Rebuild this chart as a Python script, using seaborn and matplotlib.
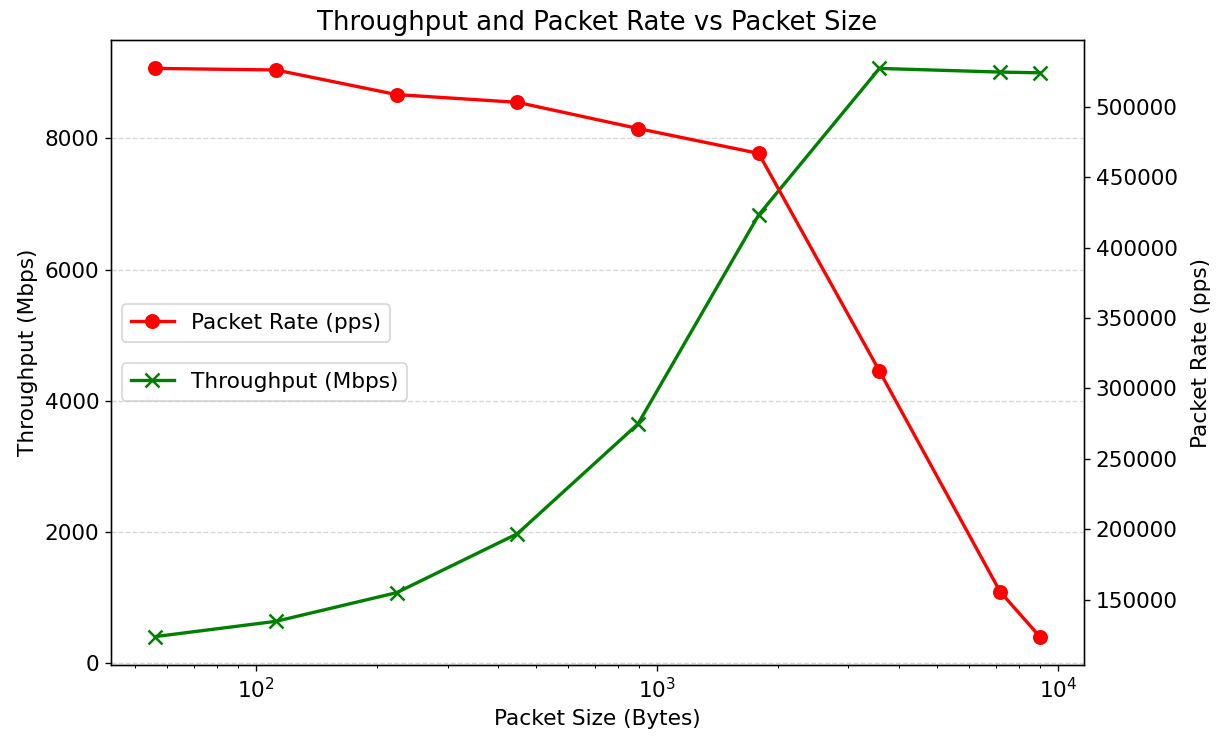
import numpy as np
import pandas as pd
import matplotlib
matplotlib.use("Agg")
import matplotlib.pyplot as plt
import seaborn as sns

# 数据
packet_size = [56, 112, 224, 448, 896, 1792, 3584, 7168, 9000]
throughput_mbps = [402, 635, 1072, 1971, 3647, 6835, 9069, 9013, 9002]
packet_rate_pps = [527400, 526300, 508800, 503300, 484700, 467000, 312400, 155600, 123700]

df = pd.DataFrame({
    'size': packet_size,
    'throughput': throughput_mbps,
    'pps': packet_rate_pps,
})

fig = plt.figure(figsize=(1221 / 120, 736 / 120), dpi=120)
ax1 = fig.add_axes([111 / 1221, 1 - 665 / 736, (1084 - 111) / 1221, (665 - 40) / 736])
ax2 = ax1.twinx()

# 吞吐量（左轴）
sns.lineplot(data=df, x='size', y='throughput', ax=ax1, color='green', marker='x',
             markersize=8, markeredgewidth=1.5, markeredgecolor='green',
             linewidth=2, label='Throughput (Mbps)')
# 包速率（右轴）
sns.lineplot(data=df, x='size', y='pps', ax=ax2, color='red', marker='o',
             markersize=9, markeredgewidth=0, markeredgecolor='red',
             linewidth=2, label='Packet Rate (pps)')

ax1.set_xscale('log')
ax1.set_xlabel('Packet Size (Bytes)', fontsize=13)
ax1.set_ylabel('Throughput (Mbps)', fontsize=13)
ax2.set_ylabel('Packet Rate (pps)', fontsize=13, labelpad=8)
ax1.set_title('Throughput and Packet Rate vs Packet Size', fontsize=15.5)
ax1.tick_params(labelsize=13)
ax2.tick_params(labelsize=13)

ax1.grid(axis='y', linestyle='--', alpha=0.5)

ax2.legend(loc='lower left', bbox_to_anchor=(0, 0.5), fontsize=13)
ax1.legend(loc='upper left', bbox_to_anchor=(0, 0.5), fontsize=13)

fig.savefig('out.png', dpi=120)
